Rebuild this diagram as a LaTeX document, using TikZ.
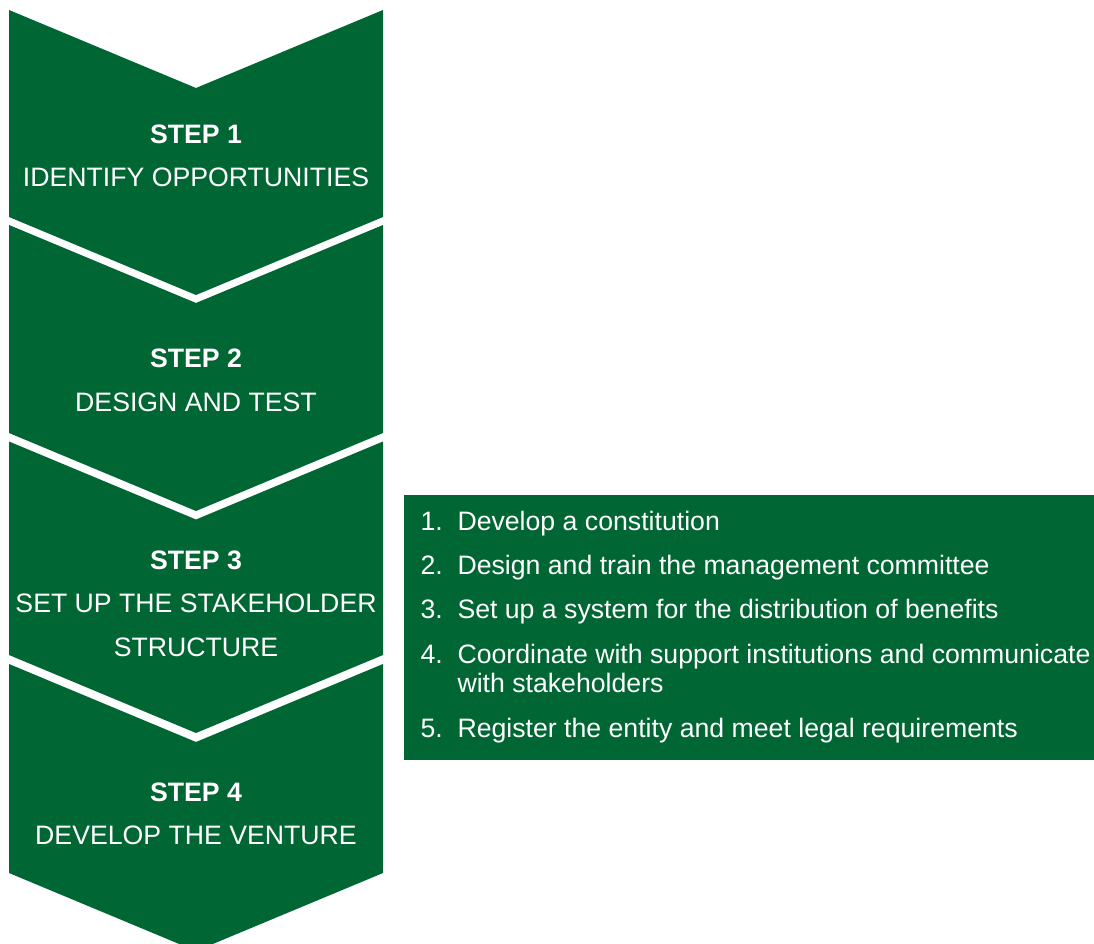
\documentclass[tikz,border=0pt]{standalone}
\usepackage{fontspec}
\setmainfont{Liberation Sans}
\definecolor{stepgreen}{RGB}{0,102,51}
\tikzset{every picture/.style={line width=0.75pt}}
\tikzset{
  steptext/.style={anchor=base,inner sep=0pt,text=white,font=\fontsize{20}{24}\selectfont},
  listtext/.style={anchor=base west,inner sep=0pt,text=white,font=\fontsize{20}{24}\selectfont}
}
\begin{document}
\begin{tikzpicture}[x=0.75pt,y=0.75pt,yscale=-1,xscale=1]
\useasboundingbox (0,0) rectangle (1094,944);
\clip (0,0) rectangle (1094,944);

%Shape: Chevron [id:step1]
\fill [stepgreen] (9,10) -- (196,88) -- (383,10) -- (383,217) -- (196,295) -- (9,217) -- cycle ;
%Shape: Chevron [id:step2]
\fill [stepgreen] (9,225) -- (196,303) -- (383,225) -- (383,433) -- (196,511) -- (9,433) -- cycle ;
%Shape: Chevron [id:step3]
\fill [stepgreen] (9,441.5) -- (196,519.5) -- (383,441.5) -- (383,655) -- (196,733) -- (9,655) -- cycle ;
%Shape: Chevron [id:step4]
\fill [stepgreen] (9,664) -- (196,742) -- (383,664) -- (383,873) -- (196,951) -- (9,873) -- cycle ;

%Shape: Rectangle [id:listbox]
\fill [stepgreen] (404,495) rectangle (1094,760) ;

% Text Node
\node (s1) [steptext] at (196,143.5) {\bfseries STEP 1};
% Text Node
\node (s1t) [steptext] at (196,186.5) {IDENTIFY OPPORTUNITIES};
% Text Node
\node (s2) [steptext] at (196,367.5) {\bfseries STEP 2};
% Text Node
\node (s2t) [steptext] at (196,411) {DESIGN AND TEST};
% Text Node
\node (s3) [steptext] at (196,569) {\bfseries STEP 3};
% Text Node
\node (s3t) [steptext] at (196,612.5) {SET UP THE STAKEHOLDER};
% Text Node
\node (s3u) [steptext] at (196,656) {STRUCTURE};
% Text Node
\node (s4) [steptext] at (196,801) {\bfseries STEP 4};
% Text Node
\node (s4t) [steptext] at (196,844) {DEVELOP THE VENTURE};

% Text Node
\node (n1) [listtext] at (420,530) {1.};
% Text Node
\node (i1) [listtext] at (457,530) {Develop a constitution};
% Text Node
\node (n2) [listtext] at (420,574) {2.};
% Text Node
\node (i2) [listtext] at (457,574) {Design and train the management committee};
% Text Node
\node (n3) [listtext] at (420,618) {3.};
% Text Node
\node (i3) [listtext] at (457,618) {Set up a system for the distribution of benefits};
% Text Node
\node (n4) [listtext] at (420,663) {4.};
% Text Node
\node (i4) [listtext] at (457,663) {Coordinate with support institutions and communicate};
% Text Node
\node (i4b) [listtext] at (457,692.5) {with stakeholders};
% Text Node
\node (n5) [listtext] at (420,737) {5.};
% Text Node
\node (i5) [listtext] at (457,737) {Register the entity and meet legal requirements};
\end{tikzpicture}
\end{document}
